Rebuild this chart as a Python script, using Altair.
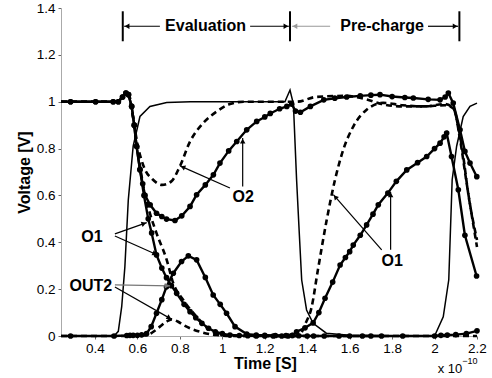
import math
import altair as alt
import pandas as pd

# Time in units of 1e-10 s, voltage in V
clk_t = [0.24, 0.49, 0.51, 0.526, 0.541, 0.557, 0.58, 0.612, 0.659, 0.738, 0.85, 1.0, 1.2, 1.295,
         1.319, 1.335, 1.35, 1.362, 1.374, 1.397, 1.428, 1.49, 1.6, 1.8, 2.0, 2.041, 2.067, 2.083,
         2.104, 2.135, 2.167, 2.2]
clk_v = [0, 0, 0.02, 0.125, 0.296, 0.58, 0.81, 0.937, 0.98, 0.997, 1.0, 1.0, 1.0, 1.0,
         1.05, 0.99, 0.667, 0.45, 0.239, 0.111, 0.054, 0.012, 0.003, 0.0, 0.0, 0.082, 0.24, 0.667,
         0.81, 0.937, 0.98, 0.994]

o2_t = [0.24, 0.285, 0.403, 0.486, 0.51, 0.53, 0.546, 0.558, 0.573, 0.585, 0.596, 0.612, 0.625,
        0.636, 0.66, 0.69, 0.715, 0.737, 0.777, 0.809, 0.848, 0.879, 0.92, 0.958, 0.989, 1.03,
        1.068, 1.115, 1.162, 1.2, 1.226, 1.27, 1.304, 1.327, 1.345, 1.368, 1.415, 1.478, 1.53,
        1.586, 1.65, 1.7, 1.743, 1.8, 1.86, 1.9, 1.97, 2.026, 2.05, 2.065, 2.088, 2.12, 2.143,
        2.167, 2.199]
o2_v = [1.0, 1.0, 1.0, 1.0, 1.0, 1.02, 1.037, 1.03, 0.98, 0.9, 0.81, 0.71, 0.65,
        0.6, 0.56, 0.524, 0.51, 0.499, 0.493, 0.513, 0.553, 0.603, 0.645, 0.688, 0.738, 0.79,
        0.83, 0.88, 0.916, 0.935, 0.95, 0.97, 0.98, 0.99, 0.96, 0.955, 0.98, 1.008, 1.015,
        1.02, 1.025, 1.028, 1.03, 1.022, 1.018, 1.016, 1.01, 1.008, 1.02, 1.037, 0.994, 0.88, 0.788,
        0.738, 0.68]

o1_t = [0.24, 0.285, 0.403, 0.486, 0.51, 0.53, 0.546, 0.558, 0.573, 0.585, 0.596, 0.612, 0.631,
        0.651, 0.667, 0.69, 0.715, 0.737, 0.76, 0.785, 0.82, 0.848, 0.875, 0.904, 0.935, 0.967,
        1.0, 1.036, 1.08, 1.12, 1.16, 1.2, 1.24, 1.28, 1.31, 1.33, 1.35, 1.39, 1.428, 1.455,
        1.484, 1.52, 1.555, 1.58, 1.6, 1.617, 1.65, 1.68, 1.71, 1.735, 1.78, 1.82, 1.869, 1.92,
        1.963, 2.0, 2.026, 2.045, 2.057, 2.08, 2.112, 2.143, 2.198]
o1_v = [1.0, 1.0, 1.0, 1.0, 1.0, 1.02, 1.037, 1.03, 0.98, 0.9, 0.81, 0.71, 0.6,
        0.5, 0.44, 0.346, 0.29, 0.249, 0.215, 0.182, 0.135, 0.104, 0.078, 0.054, 0.033, 0.018,
        0.01, 0.004, 0.002, 0.001, 0.0, 0.0, 0.0, 0.0, 0.0, 0.003, 0.018, 0.035, 0.056, 0.1,
        0.161, 0.23, 0.303, 0.335, 0.36, 0.388, 0.43, 0.474, 0.52, 0.56, 0.61, 0.66, 0.709, 0.74,
        0.766, 0.8, 0.823, 0.85, 0.866, 0.766, 0.624, 0.43, 0.256]

out2_t = [0.24, 0.285, 0.49, 0.55, 0.565, 0.58, 0.6, 0.62, 0.643, 0.665, 0.69, 0.715, 0.737,
          0.769, 0.808, 0.84, 0.879, 0.92, 0.957, 0.99, 1.02, 1.06, 1.115, 1.16, 1.2, 1.25, 1.3,
          1.33, 1.36, 1.4, 1.43, 1.48, 1.55, 1.6, 1.66, 1.7, 1.75, 1.85, 2.0, 2.03, 2.06, 2.1,
          2.15, 2.2]
out2_v = [0, 0, 0, 0.002, 0.003, 0.003, 0.003, 0.005, 0.01, 0.04, 0.097, 0.155, 0.21,
          0.268, 0.318, 0.342, 0.325, 0.25, 0.175, 0.135, 0.097, 0.04, 0.008, 0.004, 0.003, 0.002, 0.002,
          0.002, 0.001, 0, 0, 0, 0, 0, 0, 0, 0, 0, 0, 0.003, 0.004, 0.006,
          0.01, 0.022]

o1d_t = [0.24, 0.5, 0.53, 0.546, 0.56, 0.573, 0.6, 0.636, 0.66, 0.69, 0.738, 0.769, 0.816, 0.879,
         0.942, 1.005, 1.1, 1.2, 1.3, 1.35, 1.37, 1.39, 1.42, 1.45, 1.492, 1.531, 1.57, 1.617,
         1.68, 1.758, 1.85, 1.95, 2.05, 2.09, 2.12, 2.15, 2.2]
o1d_v = [1.0, 1.0, 1.02, 1.035, 1.03, 0.97, 0.8, 0.6, 0.52, 0.439, 0.325, 0.225, 0.154, 0.082,
         0.026, 0.004, 0.0, 0.0, 0.0, 0.0, 0.01, 0.05, 0.12, 0.28, 0.496, 0.667, 0.795, 0.894,
         0.966, 0.995, 0.985, 0.98, 0.985, 0.97, 0.84, 0.66, 0.38]

o2d_t = [0.24, 0.5, 0.53, 0.546, 0.56, 0.573, 0.6, 0.636, 0.67, 0.716, 0.76, 0.8, 0.848, 0.91,
         0.973, 1.036, 1.1, 1.2, 1.3, 1.35, 1.44, 1.58, 1.68, 1.75, 1.85, 1.95, 2.05, 2.09, 2.11,
         2.13, 2.16, 2.2]
o2d_v = [1.0, 1.0, 1.02, 1.035, 1.03, 0.97, 0.82, 0.71, 0.67, 0.645, 0.66, 0.724, 0.83, 0.909,
         0.958, 0.99, 1.0, 1.0, 1.0, 1.0, 1.02, 1.025, 1.01, 0.99, 0.98, 0.98, 0.99, 0.97, 0.9,
         0.8, 0.6, 0.41]

out2d_t = [0.24, 0.6, 0.643, 0.67, 0.706, 0.735, 0.761, 0.79, 0.816, 0.85, 0.895, 0.973, 1.05, 2.2]
out2d_v = [0, 0, 0.003, 0.015, 0.04, 0.06, 0.071, 0.062, 0.047, 0.032, 0.018, 0.004, 0, 0]

# Callout arrows (start -> tip)
arr_x1 = [1.096, 1.036, 1.793, 1.751, 0.494, 0.494, 0.494, 0.494]
arr_y1 = [0.638, 0.632, 0.368, 0.368, 0.436, 0.427, 0.218, 0.209]
arr_x2 = [1.096, 0.801, 1.793, 1.523, 0.644, 0.695, 0.754, 0.762]
arr_y2 = [0.845, 0.726, 0.615, 0.603, 0.484, 0.346, 0.214, 0.071]
arr_col = ["#000", "#000", "#000", "#000", "#000", "#000", "#777", "#000"]

# Phase markers
phase_bar_t = [0.531, 1.319, 2.117]
phase_bar_lo, phase_bar_hi = 1.258, 1.386
ph_x1 = [0.706, 1.131, 1.508, 1.969]
ph_x2 = [0.537, 1.314, 1.328, 2.111]
ph_y = 1.322
ph_col = ["#000", "#000", "#999", "#000"]

lab_text = ["O2", "O1", "O1", "OUT2", "Evaluation", "Pre-charge"]
lab_x = [1.098, 1.80, 0.386, 0.381, 0.921, 1.753]
lab_y = [0.595, 0.318, 0.421, 0.214, 1.322, 1.322]

x_ticks = [0.4, 0.6, 0.8, 1.0, 1.2, 1.4, 1.6, 1.8, 2.0, 2.2]
y_ticks = [0, 0.2, 0.4, 0.6, 0.8, 1.0, 1.2, 1.4]

X_DOMAIN = [0.24, 2.2]
Y_DOMAIN = [0, 1.4]
W, H = 416, 328
FONT = "Liberation Sans"


def frame(name, ts, vs):
    return pd.DataFrame({"series": name, "t": ts, "v": vs})


clk = frame("CLK", clk_t, clk_v)
solid = pd.concat([frame("O1", o1_t, o1_v), frame("O2", o2_t, o2_v),
                   frame("OUT2", out2_t, out2_v)], ignore_index=True)
dashed = pd.concat([frame("O1", o1d_t, o1d_v), frame("O2", o2d_t, o2d_v),
                    frame("OUT2", out2d_t, out2d_v)], ignore_index=True)
dots = solid[solid["t"] > 0.25]

xs = alt.Scale(domain=X_DOMAIN, nice=False, zero=False)
ys = alt.Scale(domain=Y_DOMAIN, nice=False, zero=False)

x_axis = alt.Axis(values=x_ticks, format="~g", title="Time [S]", grid=False,
                  labelFont=FONT, labelFontSize=13.5, labelColor="#000", labelPadding=2,
                  labelFlush=False, tickSize=3, tickColor="#666", domainColor="#aaa",
                  titleFont=FONT, titleFontSize=16, titleFontWeight="bold", titleColor="#000",
                  titleX=204, titleY=27, titleAlign="center", titleBaseline="middle")
y_axis = alt.Axis(values=y_ticks, format="~g", title="Voltage [V]", grid=False,
                  labelFont=FONT, labelFontSize=13.5, labelColor="#000", labelPadding=3,
                  tickSize=3, tickColor="#666", domainColor="#aaa",
                  titleFont=FONT, titleFontSize=16, titleFontWeight="bold", titleColor="#000",
                  titleAngle=270, titleX=-37, titleY=164, titleAlign="center",
                  titleBaseline="middle")


def X(f):
    return alt.X(f, type="quantitative", scale=xs, axis=x_axis)


def Y(f):
    return alt.Y(f, type="quantitative", scale=ys, axis=y_axis)


thin = alt.Chart(clk).mark_line(color="#000", strokeWidth=1.5).encode(
    x=X("t"), y=Y("v"), order="t:Q")

dash_lines = alt.Chart(dashed).mark_line(color="#000", strokeWidth=2.6, strokeDash=[6, 4],
                                         interpolate="monotone").encode(
    x=X("t"), y=Y("v"), detail="series:N", order="t:Q")

solid_lines = alt.Chart(solid).mark_line(color="#000", strokeWidth=2.4).encode(
    x=X("t"), y=Y("v"), detail="series:N", order="t:Q")

dot_marks = alt.Chart(dots).mark_point(filled=True, color="#000", size=32, opacity=1).encode(
    x=X("t"), y=Y("v"))

# arrows: shaft + arrowhead
SX = W / (X_DOMAIN[1] - X_DOMAIN[0])
SY = H / (Y_DOMAIN[1] - Y_DOMAIN[0])


def arrow_frame(x1, y1, x2, y2, cols):
    rows = []
    for a, b, c, d, col in zip(x1, y1, x2, y2, cols):
        dx = (c - a) * SX
        dy = -(d - b) * SY
        length = math.hypot(dx, dy)
        ang = math.degrees(math.atan2(dx, -dy)) % 360
        back = 3.0 / length
        rows.append({"x1": a, "y1": b, "x2": c, "y2": d, "col": col, "ang": ang,
                     "hx": c - (c - a) * back, "hy": d - (d - b) * back})
    return pd.DataFrame(rows)


arrows = arrow_frame(arr_x1, arr_y1, arr_x2, arr_y2, arr_col)
phase_arrows = arrow_frame(ph_x1, [ph_y] * 4, ph_x2, [ph_y] * 4, ph_col)
all_arrows = pd.concat([arrows, phase_arrows], ignore_index=True)

shafts = alt.Chart(all_arrows).mark_rule(strokeWidth=1.2).encode(
    x=X("x1"), y=Y("y1"), x2="x2:Q", y2="y2:Q",
    color=alt.Color("col:N", scale=None))
heads = alt.Chart(all_arrows).mark_point(shape="triangle-up", filled=True, size=30,
                                         opacity=1).encode(
    x=X("hx"), y=Y("hy"), angle=alt.Angle("ang:Q", scale=None),
    color=alt.Color("col:N", scale=None))

bars = alt.Chart(pd.DataFrame({"t": phase_bar_t, "lo": phase_bar_lo, "hi": phase_bar_hi})
                 ).mark_rule(color="#000", strokeWidth=2).encode(
    x=X("t"), y=Y("lo"), y2="hi:Q")

labels_df = pd.DataFrame({"txt": lab_text, "t": lab_x, "v": lab_y})
labels = alt.Chart(labels_df).mark_text(font=FONT, fontSize=16, fontWeight="bold",
                                        color="#000", baseline="middle", align="center").encode(
    x=X("t"), y=Y("v"), text="txt:N")

exp_base = alt.Chart(pd.DataFrame({"s": ["x 10"]})).mark_text(
    font=FONT, fontSize=13, color="#000", align="center", baseline="middle").encode(
    x=alt.value(389), y=alt.value(361), text="s:N")
exp_pow = alt.Chart(pd.DataFrame({"s": ["\u221210"]})).mark_text(
    font=FONT, fontSize=9, color="#000", align="center", baseline="middle").encode(
    x=alt.value(409), y=alt.value(353), text="s:N")

chart = alt.layer(thin, dash_lines, solid_lines, dot_marks, shafts, heads, bars, labels,
                  exp_base, exp_pow).properties(
    width=W, height=H,
    autosize=alt.AutoSizeParams(type="none"),
    padding={"left": 61, "top": 8, "right": 15, "bottom": 42},
    background="#ffffff",
).configure_view(strokeWidth=0)

chart.save("out.html", embed_options={"renderer": "svg", "actions": False})
